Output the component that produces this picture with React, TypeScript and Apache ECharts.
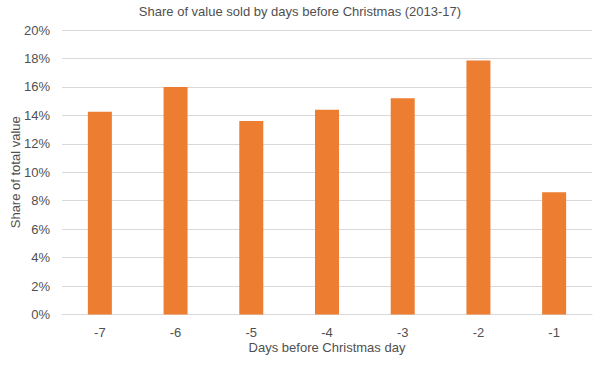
import React, { useEffect, useRef } from "react";
import * as echarts from "echarts";

const categories = ["-7", "-6", "-5", "-4", "-3", "-2", "-1"];
const shareValues = [14.25, 16.0, 13.6, 14.4, 15.2, 17.85, 8.6];
const yTicks = { min: 0, max: 20, interval: 2 };

export default function App() {
  const ref = useRef<HTMLDivElement>(null);
  useEffect(() => {
    if (!ref.current) return;
    const chart = echarts.init(ref.current, null, { renderer: "svg" });
    const font = "'Liberation Sans', Arial, Helvetica, sans-serif";
    const txt = "#505050";
    chart.setOption({
      animation: false,
      backgroundColor: "#ffffff",
      title: {
        text: "Share of value sold by days before Christmas (2013-17)",
        left: "center",
        top: 0,
        textStyle: { fontFamily: font, fontSize: 13, fontWeight: "normal", color: txt },
      },
      grid: { left: 62, right: 8, top: 30, bottom: 50.5, containLabel: false, outerBoundsMode: "none" },
      xAxis: {
        type: "category",
        data: categories,
        name: "Days before Christmas day",
        nameLocation: "middle",
        nameGap: 26,
        nameMoveOverlap: false,
        nameTextStyle: { fontFamily: font, fontSize: 13, color: txt },
        axisLine: { lineStyle: { color: "#D9D9D9" } },
        axisTick: { show: false },
        axisLabel: { fontFamily: font, fontSize: 13, color: txt, margin: 11 },
      },
      yAxis: {
        type: "value",
        min: yTicks.min,
        max: yTicks.max,
        interval: yTicks.interval,
        name: "Share of total value",
        nameLocation: "middle",
        nameGap: 40,
        nameMoveOverlap: false,
        nameTextStyle: { fontFamily: font, fontSize: 13, color: txt },
        axisLine: { show: false },
        axisTick: { show: false },
        axisLabel: { fontFamily: font, fontSize: 13, color: txt, margin: 12, formatter: "{value}%" },
        splitLine: { lineStyle: { color: "#D9D9D9" } },
      },
      series: [
        {
          type: "bar",
          data: shareValues,
          barWidth: 24,
          itemStyle: { color: "#ED7D31" },
        },
      ],
    });
    return () => chart.dispose();
  }, []);
  return <div ref={ref} style={{ width: 600, height: 365, position: "absolute", left: 0, top: 0 }} />;
}
